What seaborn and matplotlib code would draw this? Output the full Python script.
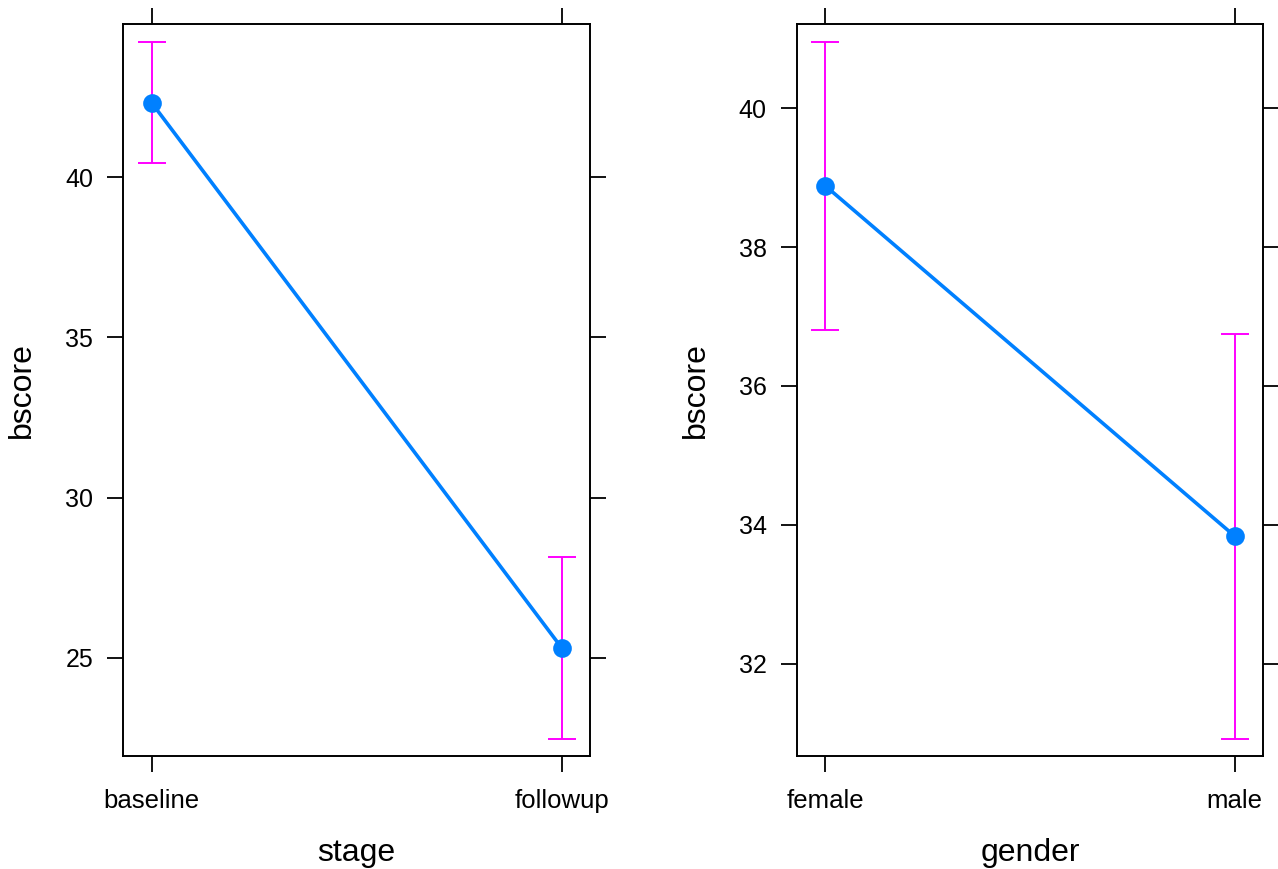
import numpy as np
import matplotlib
matplotlib.use('Agg')
import matplotlib.pyplot as plt
import pandas as pd
import seaborn as sns

# effect estimates with 95% intervals
stage_levels = ['baseline', 'followup']
stage_fit = [42.33, 25.31]
stage_lower = [40.44, 22.47]
stage_upper = [44.23, 28.15]

gender_levels = ['female', 'male']
gender_fit = [38.88, 33.84]
gender_lower = [36.81, 30.92]
gender_upper = [40.95, 36.75]

stage_ticks = [25, 30, 35, 40]
gender_ticks = [32, 34, 36, 38, 40]

sns.set_theme(style="white")
plt.rcParams['font.family'] = ['Liberation Sans', 'DejaVu Sans']
plt.rcParams['text.color'] = 'black'
plt.rcParams['axes.labelcolor'] = 'black'
plt.rcParams['xtick.color'] = 'black'
plt.rcParams['ytick.color'] = 'black'

line_col = '#0080FF'
ci_col = '#FF00FF'

fig = plt.figure(figsize=(12.78, 8.69), dpi=100)
ax1 = fig.add_axes([0.0962, 0.1297, 0.3657, 0.8427])
ax2 = fig.add_axes([0.6234, 0.1297, 0.3651, 0.8427])

panels = [
    (ax1, 'stage', stage_levels, stage_fit, stage_lower, stage_upper, stage_ticks, (21.92, 44.79)),
    (ax2, 'gender', gender_levels, gender_fit, gender_lower, gender_upper, gender_ticks, (30.67, 41.21)),
]

for ax, name, levels, fit, lo, hi, yt, ylim in panels:
    df = pd.DataFrame({name: levels, 'bscore': fit})
    sns.pointplot(data=df, x=name, y='bscore', color=line_col, ax=ax,
                  markers='o', linewidth=2.6, markersize=11.5, errorbar=None)
    pos = np.arange(len(levels))
    fit_a, lo_a, hi_a = np.array(fit), np.array(lo), np.array(hi)
    ax.errorbar(pos, fit_a, yerr=[fit_a - lo_a, hi_a - fit_a], fmt='none',
                ecolor=ci_col, elinewidth=1.4, capsize=9.8, capthick=1.4, zorder=1)
    ax.set_xlim(-0.07, 1.07)
    ax.set_ylim(*ylim)
    ax.set_yticks(yt)
    ax.set_xticks(pos)
    ax.set_xticklabels(levels)
    for sp in ax.spines.values():
        sp.set_visible(True)
        sp.set_color('black')
        sp.set_linewidth(1.4)
    ax.tick_params(axis='both', direction='out', length=11.5, width=1.3, color='black',
                   labelcolor='black', top=True, right=True, bottom=True, left=True,
                   labeltop=False, labelright=False)
    ax.tick_params(axis='y', labelsize=18, pad=10)
    ax.tick_params(axis='x', labelsize=18.5, pad=12)
    ax.set_xlabel(name, fontsize=23, labelpad=18, color='black')
    ax.set_ylabel('bscore', fontsize=23, labelpad=20, color='black')
    ax.grid(False)

fig.savefig('out.png', dpi=100)
